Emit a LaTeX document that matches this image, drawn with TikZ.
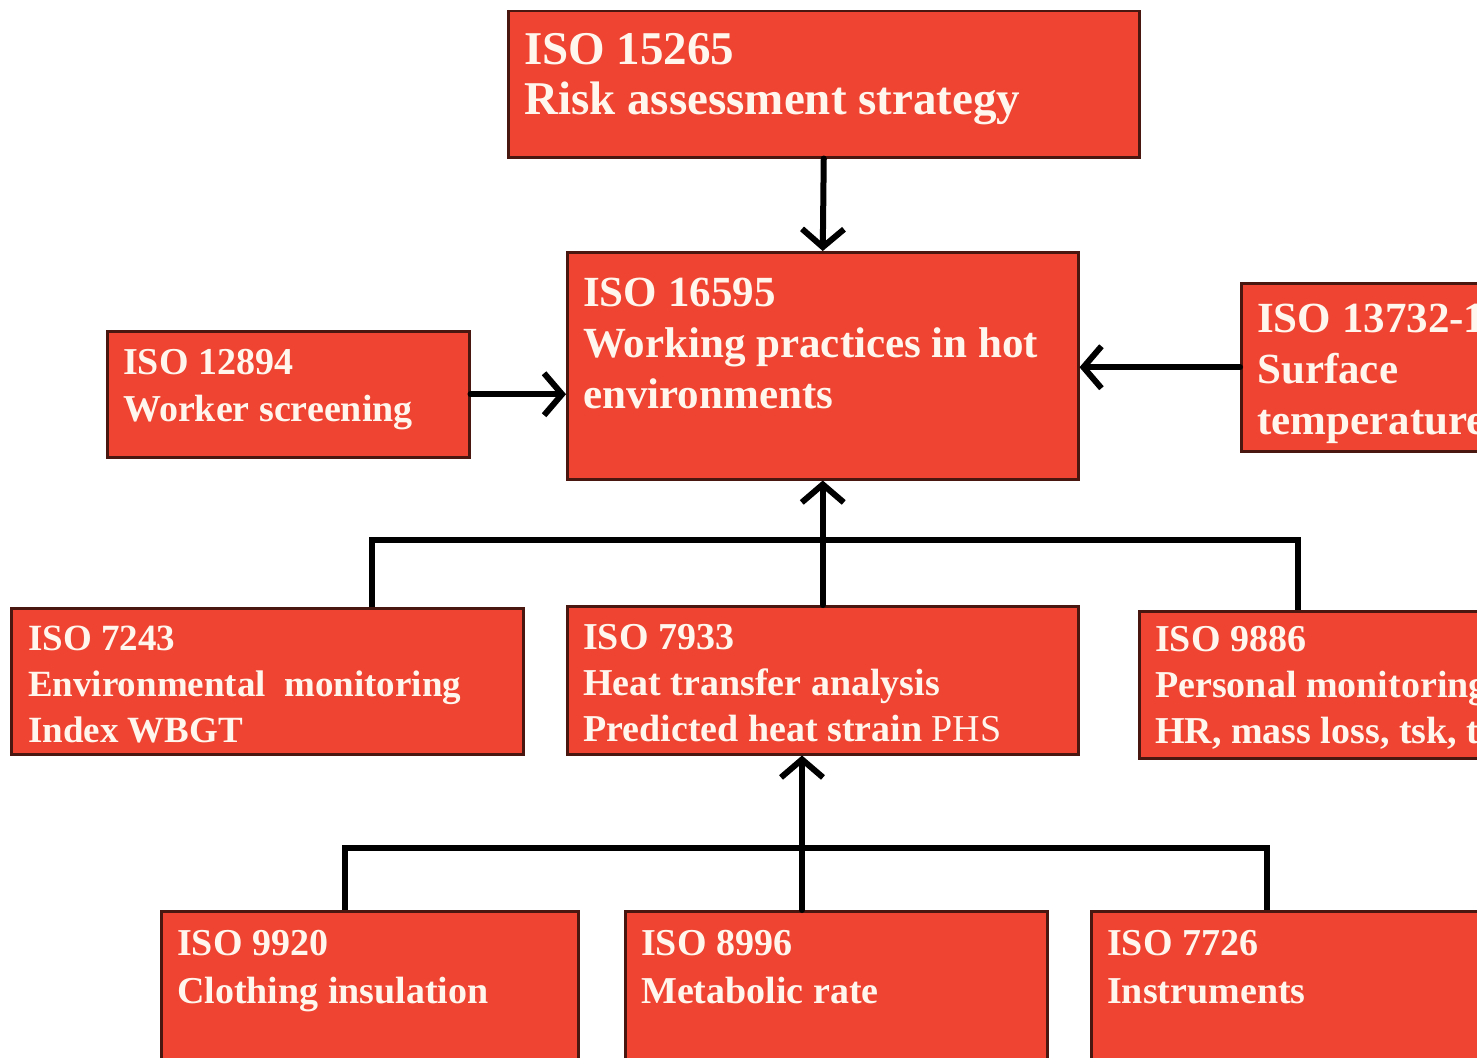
\documentclass[tikz,border=0pt]{standalone}
\usepackage{fontspec}
\setmainfont{Liberation Serif}
\usetikzlibrary{arrows.meta,calc}
\definecolor{boxred}{HTML}{EE4431}
\definecolor{boxedge}{HTML}{4A1610}
\definecolor{txt}{HTML}{FFF6EE}
\newcommand{\fs}[2]{\fontsize{#1}{#2}\selectfont}
\tikzset{
  box/.style={draw=boxedge, line width=2.5pt, fill=boxred, anchor=north west, inner sep=0pt},
  lbl/.style={anchor=north west, inner sep=0pt, align=left, text=txt},
  big/.style={lbl, font=\bfseries\fs{47}{50}},
  mid/.style={lbl, font=\bfseries\fs{43}{51}},
  small/.style={lbl, font=\bfseries\fs{38}{#1}},
  conn/.style={draw=black, line width=6pt},
  arr/.style={conn, -{Straight Barb[length=18pt,width=42pt,line width=6pt]}, line cap=round}
}
\begin{document}
\begin{tikzpicture}[x=1pt,y=-1pt]
\useasboundingbox (0,0) rectangle (1477,1057);
\fill[white] (0,0) rectangle (1477,1057);
\clip (0,0) rectangle (1477,1057);
% boxes
\node[box, minimum width=631pt, minimum height=146pt] (b15265) at (507,10) {};
\node[box, minimum width=511pt, minimum height=227pt] (b16595) at (566,251) {};
\node[box, minimum width=362pt, minimum height=126pt] (b12894) at (106,330) {};
\node[box, minimum width=320pt, minimum height=168pt] (b13732) at (1240,282) {};
\node[box, minimum width=512pt, minimum height=146pt] (b7243) at (10,607) {};
\node[box, minimum width=511pt, minimum height=148pt] (b7933) at (566,605) {};
\node[box, minimum width=420pt, minimum height=147pt] (b9886) at (1138,610) {};
\node[box, minimum width=417pt, minimum height=200pt] (b9920) at (160,910) {};
\node[box, minimum width=422pt, minimum height=200pt] (b8996) at (624,910) {};
\node[box, minimum width=420pt, minimum height=200pt] (b7726) at (1090,910) {};
% texts
\node[big] (t15265) at (524,33) {ISO 15265\\Risk assessment strategy};
\node[mid] (t16595) at (583,278) {ISO 16595\\Working practices in hot\\environments};
\node[mid] (t13732) at (1257,304) {ISO 13732-1\\Surface\\temperature};
\node[small=47] (t12894) at (123,349) {ISO 12894\\Worker screening};
\node[small=46, font=\bfseries\fs{37}{46}] (t7243) at (28,626) {ISO 7243\\Environmental~~monitoring\\Index WBGT};
\node[small=46] (t7933) at (583,624) {ISO 7933\\Heat transfer analysis\\Predicted heat strain {\mdseries PHS}};
\node[small=46] (t9886) at (1155,626) {ISO 9886\\Personal monitoring\\HR, mass loss, tsk, tre};
\node[small=48] (t9920) at (177,930) {ISO 9920\\Clothing insulation};
\node[small=48] (t8996) at (641,930) {ISO 8996\\Metabolic rate};
\node[small=48] (t7726) at (1107,930) {ISO 7726\\Instruments};
% junction coordinates
\coordinate (j1) at (372,540);
\coordinate (j2) at (1298,540);
\coordinate (j3) at (345,848);
\coordinate (j4) at (802,848);
\coordinate (j5) at (1267,848);
% connectors
\draw[arr] (b15265.south) -- (b16595.north);
\draw[arr] (b12894.east) -- (b12894.east -| b16595.west);
\draw[arr] (b13732.west) -- (b13732.west -| b16595.east);
\draw[conn] (b7243.north -| j1) -- (j1) -- (j2) -- (b9886.north -| j2);
\draw[arr] (b7933.north) -- (b16595.south);
\draw[conn] (b9920.north -| j3) -- (j3) -- (j5) -- (b7726.north -| j5);
\draw[arr] (b8996.north -| j4) -- (b7933.south -| j4);
\end{tikzpicture}
\end{document}
